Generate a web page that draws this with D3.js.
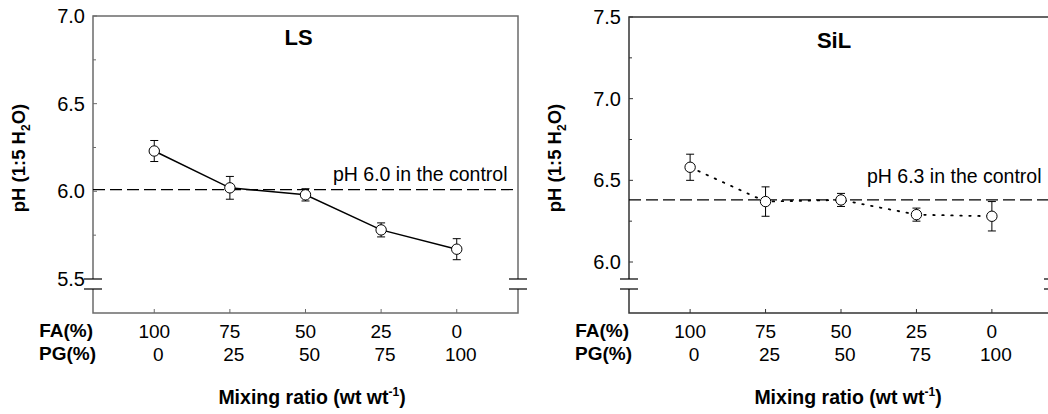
<!DOCTYPE html>
<html>
<head>
<meta charset="utf-8">
<script src="https://cdn.jsdelivr.net/npm/d3@7"></script>
<style>
  body { margin: 0; background: #fff; }
  text { font-family: "Liberation Sans", Arial, sans-serif; fill: #000; }
</style>
</head>
<body>
<svg id="chart"></svg>
<script>
var faLabels = ["100", "75", "50", "25", "0"];
var pgLabels = ["0", "25", "50", "75", "100"];

var lsMean = [6.23, 6.02, 5.98, 5.78, 5.67];
var lsErr = [0.06, 0.065, 0.035, 0.04, 0.06];
var lsControl = 6.01;

var silMean = [6.58, 6.37, 6.38, 6.29, 6.28];
var silErr = [0.08, 0.09, 0.04, 0.04, 0.09];
var silControl = 6.38;

var svgWidth = 1048,
    svgHeight = 414;

var svg = d3.select("#chart")
      .attr("width", svgWidth)
      .attr("height", svgHeight);

// one panel per soil
var panels = [
  {title: "LS", mean: lsMean, err: lsErr, control: lsControl,
   controlText: "pH 6.0 in the control", dash: null,
   left: 93, right: 518, top: 16, yMin: 5.5, yMax: 7.0, yMinPx: 279,
   ticks: [5.5, 6.0, 6.5, 7.0], minor: [5.75, 6.25, 6.75],
   frame: "#6b6b6b", titleY: 45, controlX: 333, controlY: 181},
  {title: "SiL", mean: silMean, err: silErr, control: silControl,
   controlText: "pH 6.3 in the control", dash: "1.5,7.5",
   left: 629, right: 1053, top: 17, yMin: 6.0, yMax: 7.5, yMinPx: 262,
   ticks: [6.0, 6.5, 7.0, 7.5], minor: [6.25, 6.75, 7.25],
   frame: "#333", titleY: 48, controlX: 867, controlY: 183}
];

var bottom = 313,
    break1 = 279,
    break2 = 289;

panels.forEach(function(p) {
  var g = svg.append("g");

  var x = d3.scaleLinear()
      .domain([-0.81, 4.81])
      .range([p.left, p.right]);
  var y = d3.scaleLinear()
      .domain([p.yMin, p.yMax])
      .range([p.yMinPx, p.top]);

  // frame with axis breaks on both sides
  g.append("path")
    .attr("d", "M" + p.left + "," + break1 + "V" + p.top + "H" + p.right + "V" + break1 +
               "M" + p.left + "," + break2 + "V" + bottom + "H" + p.right + "V" + break2)
    .attr("fill", "none")
    .attr("stroke", p.frame)
    .attr("stroke-width", 1.5);

  [p.left, p.right].forEach(function(xx) {
    [break1, break2].forEach(function(yy) {
      g.append("line")
        .attr("x1", xx - 9).attr("x2", xx + 9)
        .attr("y1", yy).attr("y2", yy)
        .attr("stroke", "#000").attr("stroke-width", 1.2);
    });
  });

  // y ticks (inward)
  g.selectAll(".ytick")
    .data(p.ticks.filter(function(d) { return y(d) < break1 - 1; }))
    .enter().append("line")
    .attr("x1", p.left).attr("x2", p.left + 4)
    .attr("y1", function(d) { return y(d); })
    .attr("y2", function(d) { return y(d); })
    .attr("stroke", p.frame).attr("stroke-width", 1);

  g.selectAll(".ymin")
    .data(p.minor)
    .enter().append("line")
    .attr("x1", p.left).attr("x2", p.left + 3)
    .attr("y1", function(d) { return y(d); })
    .attr("y2", function(d) { return y(d); })
    .attr("stroke", p.frame).attr("stroke-width", 1);

  g.selectAll(".ylab")
    .data(p.ticks)
    .enter().append("text")
    .attr("x", p.left - 8)
    .attr("y", function(d) { return y(d) + 7; })
    .attr("text-anchor", "end")
    .attr("font-size", "20px")
    .text(function(d) { return d3.format(".1f")(d); });

  // x ticks (inward from bottom)
  g.selectAll(".xtick")
    .data(d3.range(faLabels.length))
    .enter().append("line")
    .attr("x1", function(d) { return x(d); })
    .attr("x2", function(d) { return x(d); })
    .attr("y1", bottom).attr("y2", bottom - 4)
    .attr("stroke", p.frame).attr("stroke-width", 1);

  g.selectAll(".fa")
    .data(faLabels)
    .enter().append("text")
    .attr("x", function(d, i) { return x(i); })
    .attr("y", 338)
    .attr("text-anchor", "middle")
    .attr("font-size", "19px")
    .text(function(d) { return d; });

  g.selectAll(".pg")
    .data(pgLabels)
    .enter().append("text")
    .attr("x", function(d, i) { return x(i) + 4; })
    .attr("y", 361)
    .attr("text-anchor", "middle")
    .attr("font-size", "19px")
    .text(function(d) { return d; });

  g.append("text")
    .attr("x", p.left).attr("y", 337)
    .attr("text-anchor", "end")
    .attr("font-size", "19px").attr("font-weight", "bold")
    .text("FA(%)");
  g.append("text")
    .attr("x", p.left + 3).attr("y", 360)
    .attr("text-anchor", "end")
    .attr("font-size", "19px").attr("font-weight", "bold")
    .text("PG(%)");

  // x axis title
  var xt = g.append("text")
    .attr("x", p.left + 219).attr("y", 404)
    .attr("text-anchor", "middle")
    .attr("font-size", "19.5px").attr("font-weight", "bold");
  xt.append("tspan").text("Mixing ratio (wt wt");
  xt.append("tspan").attr("dy", -8).attr("font-size", "12px").text("-1");
  xt.append("tspan").attr("dy", 8).text(")");

  // y axis title
  var yt = g.append("text")
    .attr("transform", "translate(" + (p.left - 68) + ",158) rotate(-90)")
    .attr("text-anchor", "middle")
    .attr("font-size", "18.5px").attr("font-weight", "bold");
  yt.append("tspan").text("pH (1:5 H");
  yt.append("tspan").attr("dy", 5).attr("font-size", "12px").text("2");
  yt.append("tspan").attr("dy", -5).text("O)");

  // panel title
  g.append("text")
    .attr("x", (p.left + p.right) / 2 - 7).attr("y", p.titleY)
    .attr("text-anchor", "middle")
    .attr("font-size", "22px").attr("font-weight", "bold")
    .text(p.title);

  // control line
  g.append("line")
    .attr("x1", p.left).attr("x2", p.right)
    .attr("y1", y(p.control)).attr("y2", y(p.control))
    .attr("stroke", "#000").attr("stroke-width", 1.2)
    .attr("stroke-dasharray", "12,5");

  g.append("text")
    .attr("x", p.controlX).attr("y", p.controlY)
    .attr("font-size", "19.5px")
    .text(p.controlText);

  // series line
  var line = d3.line()
    .x(function(d, i) { return x(i); })
    .y(function(d) { return y(d); });

  g.append("path")
    .datum(p.mean)
    .attr("d", line)
    .attr("fill", "none")
    .attr("stroke", "#000")
    .attr("stroke-width", p.dash ? 1.8 : 1.5)
    .attr("stroke-linecap", "round")
    .attr("stroke-dasharray", p.dash);

  // error bars
  var eb = g.selectAll(".eb")
    .data(p.mean)
    .enter().append("g");
  eb.append("line")
    .attr("x1", function(d, i) { return x(i); })
    .attr("x2", function(d, i) { return x(i); })
    .attr("y1", function(d, i) { return y(d + p.err[i]); })
    .attr("y2", function(d, i) { return y(d - p.err[i]); })
    .attr("stroke", "#000").attr("stroke-width", 1);
  [1, -1].forEach(function(s) {
    eb.append("line")
      .attr("x1", function(d, i) { return x(i) - 4; })
      .attr("x2", function(d, i) { return x(i) + 4; })
      .attr("y1", function(d, i) { return y(d + s * p.err[i]); })
      .attr("y2", function(d, i) { return y(d + s * p.err[i]); })
      .attr("stroke", "#000").attr("stroke-width", 1);
  });

  g.selectAll(".pt")
    .data(p.mean)
    .enter().append("circle")
    .attr("cx", function(d, i) { return x(i); })
    .attr("cy", function(d) { return y(d); })
    .attr("r", 5.2)
    .attr("fill", "#fff")
    .attr("stroke", "#000")
    .attr("stroke-width", 1);
});
</script>
</body>
</html>
